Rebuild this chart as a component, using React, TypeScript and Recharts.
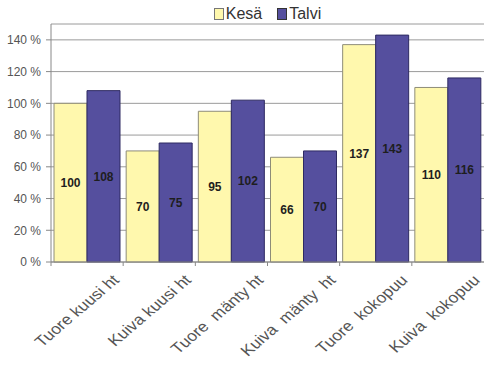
import React from "react";
import {
  BarChart,
  Bar,
  XAxis,
  YAxis,
  CartesianGrid,
  Legend,
  LabelList,
} from "recharts";

// Wood types (fresh / dry, spruce / pine, ht = harvesting residues, kokopuu = whole tree)
const categories = [
  "Tuore kuusi ht",
  "Kuiva kuusi ht",
  "Tuore  mänty ht",
  "Kuiva  mänty  ht",
  "Tuore  kokopuu",
  "Kuiva  kokopuu",
];
// Relative values, percent
const kesa = [100, 70, 95, 66, 137, 110];
const talvi = [108, 75, 102, 70, 143, 116];
const yTicks = [0, 20, 40, 60, 80, 100, 120, 140];

const seriesNames = { kesa: "Kesä", talvi: "Talvi" };
const colors = {
  kesa: "#fff8ad",
  kesaStroke: "#8e8c78",
  talvi: "#554f9e",
  talviStroke: "#2e2a62",
};

const data = categories.map((name, i) => ({
  name,
  kesa: kesa[i],
  talvi: talvi[i],
}));

const CHART_W = 484;
const CHART_H = 367;
const Y_AXIS_W = 51;
const FONT = '"Liberation Sans", Arial, sans-serif';
const band = (CHART_W - Y_AXIS_W) / categories.length;

const XTick = (props: any) => {
  const { x, y, payload } = props;
  const bx = x - band / 2;
  return (
    <g>
      <line x1={bx} y1={y} x2={bx} y2={y + 4} stroke="#888" />
      <text
        transform={`translate(${x + 33},${y + 19}) scale(1.17,1) rotate(-45)`}
        textAnchor="end"
        fontSize={15}
        fontFamily={FONT}
        fill="#555"
        style={{ whiteSpace: "pre" }}
      >
        {payload.value}
      </text>
    </g>
  );
};

const LegendContent = () => {
  const items = [
    { label: seriesNames.kesa, fill: colors.kesa, stroke: "#777" },
    { label: seriesNames.talvi, fill: colors.talvi, stroke: "#333" },
  ];
  return (
    <div
      style={{
        display: "flex",
        justifyContent: "center",
        alignItems: "center",
        fontFamily: FONT,
        fontSize: 16,
        color: "#333",
        lineHeight: "18px",
      }}
    >
      {items.map((it, i) => (
        <div
          key={it.label}
          style={{
            display: "flex",
            alignItems: "center",
            marginLeft: i === 0 ? 0 : 15,
          }}
        >
          <span
            style={{
              display: "inline-block",
              width: 8,
              height: 10,
              background: it.fill,
              border: `1px solid ${it.stroke}`,
              marginRight: 2,
            }}
          />
          <span>{it.label}</span>
        </div>
      ))}
    </div>
  );
};

export default function App() {
  return (
    <div style={{ position: "absolute", left: 0, top: 0, background: "#fff" }}>
      <BarChart
        width={CHART_W}
        height={CHART_H}
        data={data}
        margin={{ top: 24, right: 0, bottom: 0, left: 0 }}
        barCategoryGap={3}
        barGap={0}
      >
        <CartesianGrid vertical={false} stroke="#9a9a9a" />
        <XAxis
          dataKey="name"
          interval={0}
          height={105}
          tickSize={0}
          tickMargin={0}
          tickLine={false}
          axisLine={{ stroke: "#888" }}
          tick={<XTick />}
        />
        <YAxis
          width={Y_AXIS_W}
          domain={[0, 150]}
          ticks={yTicks}
          tickFormatter={(v: number) => `${v} %`}
          tickSize={5}
          tickMargin={5}
          axisLine={{ stroke: "#888" }}
          tickLine={{ stroke: "#888" }}
          tick={{ fontSize: 12, fontFamily: FONT, fill: "#555" }}
        />
        <Legend
          layout="horizontal"
          verticalAlign="middle"
          align="center"
          wrapperStyle={{ top: 5, left: Y_AXIS_W, width: CHART_W - Y_AXIS_W }}
          content={<LegendContent />}
        />
        <Bar
          dataKey="kesa"
          name={seriesNames.kesa}
          fill={colors.kesa}
          stroke={colors.kesaStroke}
          strokeWidth={1}
          isAnimationActive={false}
        >
          <LabelList
            dataKey="kesa"
            position="center"
            fill="#1e1e1e"
            fontSize={12}
            fontWeight="bold"
            fontFamily={FONT}
          />
        </Bar>
        <Bar
          dataKey="talvi"
          name={seriesNames.talvi}
          fill={colors.talvi}
          stroke={colors.talviStroke}
          strokeWidth={1}
          isAnimationActive={false}
        >
          <LabelList
            dataKey="talvi"
            position="center"
            fill="#1e1e1e"
            fontSize={12}
            fontWeight="bold"
            fontFamily={FONT}
          />
        </Bar>
      </BarChart>
    </div>
  );
}
